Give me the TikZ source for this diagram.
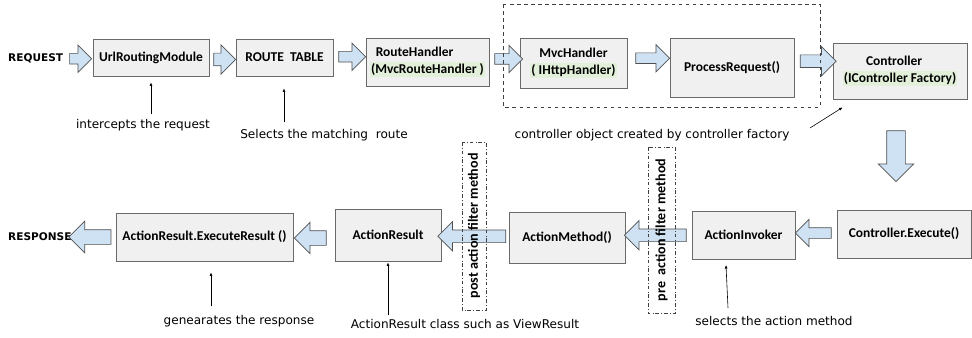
\documentclass[tikz,border=0pt]{standalone}
\usepackage{fontspec}
\setmainfont{Carlito}
\newfontfamily\notefont{DejaVu Sans}
\usetikzlibrary{arrows.meta,positioning,shapes.arrows,calc}
\definecolor{boxfill}{HTML}{F0F0F0}
\definecolor{boxline}{HTML}{6A6A6A}
\definecolor{flowfill}{HTML}{CFE2F3}
\definecolor{flowline}{HTML}{505050}
\definecolor{hlgreen}{HTML}{E2EFD9}
\newcommand{\pxu}{0.03cm}
\newcommand{\hl}[1]{{\setlength{\fboxsep}{1pt}\colorbox{hlgreen}{#1}}}

\begin{document}
\begin{tikzpicture}[x=0.03cm, y=-0.03cm, font=\bfseries\fontsize{11.5}{14.5}\selectfont,
  box/.style={draw=boxline, fill=boxfill, line width=0.7pt, align=center, inner sep=0pt},
  flow/.style={single arrow, draw=flowline, fill=flowfill, line width=0.6pt, inner sep=0pt},
  note/.style={font=\notefont\fontsize{10.3}{12}\selectfont, inner sep=1pt},
  noteline/.style={-{Latex[length=3pt,width=2.6pt]}, line width=0.5pt},
  filterbox/.style={draw=black!75, dash dot, line width=0.5pt, inner sep=0pt, font=\bfseries\fontsize{12}{14}\selectfont}]
\useasboundingbox (0,0) rectangle (972,338);

% Top row
\node[anchor=west, font=\notefont\bfseries\fontsize{9}{11}\selectfont, inner sep=0pt] (req) at (8,58) {REQUEST};
\node[box, minimum width=116*\pxu, minimum height=37*\pxu] (url) at (151,57.5) {UrlRoutingModule};
\node[box, minimum width=97*\pxu, minimum height=37*\pxu] (rtable) at (284.5,57.5) {ROUTE\ \ TABLE};
\node[box, minimum width=123*\pxu, minimum height=48*\pxu, align=left] (rhandler) at (427.5,62) {\hspace{5pt}RouteHandler\\\hl{(MvcRouteHandler )}};
\node[box, minimum width=107*\pxu, minimum height=50*\pxu] (mvc) at (573.5,63) {MvcHandler\\\hl{( IHttpHandler)}};
\node[box, minimum width=124*\pxu, minimum height=59*\pxu] (preq) at (732,67.5) {ProcessRequest()};
\node[box, minimum width=134*\pxu, minimum height=56*\pxu] (ctrl) at (900,71) {\hspace{-10pt}Controller\\\hl{(IController Factory)}};

% Bottom row
\node[box, minimum width=134*\pxu, minimum height=48*\pxu] (cexec) at (904,234) {Controller.Execute()};
\node[box, minimum width=103*\pxu, minimum height=48*\pxu] (invoker) at (743.5,235) {ActionInvoker};
\node[box, minimum width=116*\pxu, minimum height=51*\pxu] (amethod) at (567,237.5) {ActionMethod()};
\node[box, minimum width=106*\pxu, minimum height=52*\pxu] (aresult) at (388,235) {ActionResult};
\node[box, minimum width=177*\pxu, minimum height=48*\pxu] (execres) at (204.5,237) {ActionResult.ExecuteResult ()};
\node[anchor=west, font=\notefont\bfseries\fontsize{9}{11}\selectfont, inner sep=0pt] (resp) at (8,237) {RESPONSE};

% Flow arrows
\node[flow, minimum height=22*\pxu, minimum width=18*\pxu, inner ysep=5*\pxu] (f1) at ($(req.east)!.5!(url.west)+(0,1)$) {};
\node[flow, minimum height=22*\pxu, minimum width=21*\pxu, inner ysep=6*\pxu] (f2) at ($(url.east)!.5!(rtable.west)+(-1,2)$) {};
\node[flow, minimum height=27*\pxu, minimum width=20*\pxu, inner ysep=5*\pxu] (f3) at ($(rtable.east)!.5!(rhandler.west)+(0,-3)$) {};
\node[flow, minimum height=28*\pxu, minimum width=22*\pxu, inner ysep=5*\pxu] (f4) at ($(rhandler.east)!.5!(mvc.west)+(1.5,-3.5)$) {};
\node[flow, minimum height=34*\pxu, minimum width=23*\pxu, inner ysep=5*\pxu] (f5) at ($(mvc.east)!.5!(preq.west)+(1.5,-7)$) {};
\node[flow, minimum height=36*\pxu, minimum width=22*\pxu, inner ysep=6*\pxu] (f6) at ($(preq.east)!.5!(ctrl.west)+(1.5,-8)$) {};
\node[flow, shape border rotate=270, minimum height=51*\pxu, minimum width=26*\pxu, inner sep=9*\pxu] (f7) at ($(ctrl.south)!.5!(cexec.north)+(-6,-3)$) {};
\node[flow, shape border rotate=180, minimum height=36*\pxu, minimum width=22*\pxu, inner ysep=5*\pxu] (f8) at ($(cexec.west)!.5!(invoker.east)+(0,-1.5)$) {};
\node[flow, shape border rotate=180, minimum height=62*\pxu, minimum width=25*\pxu, inner ysep=6*\pxu] (f9) at ($(invoker.west)!.5!(amethod.east)+(0,-1)$) {};
\node[flow, shape border rotate=180, minimum height=68*\pxu, minimum width=23*\pxu, inner ysep=6*\pxu] (f10) at ($(amethod.west)!.5!(aresult.east)$) {};
\node[flow, shape border rotate=180, minimum height=32*\pxu, minimum width=24*\pxu, inner ysep=7*\pxu] (f11) at ($(aresult.west)!.5!(execres.east)+(0,2)$) {};
\node[flow, shape border rotate=180, minimum height=42*\pxu, minimum width=26*\pxu, inner ysep=7*\pxu] (f12) at ($(execres.west)!.5!(resp.east)$) {};

% Handler group and filters
\draw[dashed, draw=black!75, line width=0.5pt] (503,4) rectangle (820,107);
\node[filterbox, rotate=90, minimum width=168*\pxu, minimum height=24*\pxu] (post) at (474,226) {post action filter method};
\node[filterbox, rotate=90, minimum width=166*\pxu, minimum height=27*\pxu] (pre) at (661.5,230) {pre\ \ action filter method};

% Notes
\node[note] (n1) at (143,125) {intercepts the request};
\node[note] (n2) at (324,135) {Selects the matching\ \ route};
\node[note] (n3) at (652,135) {controller object created by controller factory};
\node[note] (n4) at (239,321) {genearates the response};
\node[note] (n5) at (465,324) {ActionResult class such as ViewResult};
\node[note] (n6) at (774,321) {selects the action method};

\coordinate (t1) at (151,114);
\coordinate (t2) at (284,122);
\coordinate (t3) at (810,128);
\coordinate (t4) at (211,306);
\coordinate (t5) at (388,315);
\coordinate (t6) at (728,308);
\draw[noteline] (t1) -- ([yshift=-6*\pxu]url.south);
\draw[noteline] (t2) -- ([yshift=-12*\pxu]rtable.south -| t2);
\draw[noteline] (t3) -- ([xshift=10*\pxu, yshift=-8*\pxu]ctrl.south west);
\draw[noteline] (t4) -- ([yshift=-11*\pxu]execres.south -| t4);
\draw[noteline] (t5) -- ([yshift=-1*\pxu]aresult.south -| t5);
\draw[noteline] (t6) -- (726,265);
\end{tikzpicture}
\end{document}
